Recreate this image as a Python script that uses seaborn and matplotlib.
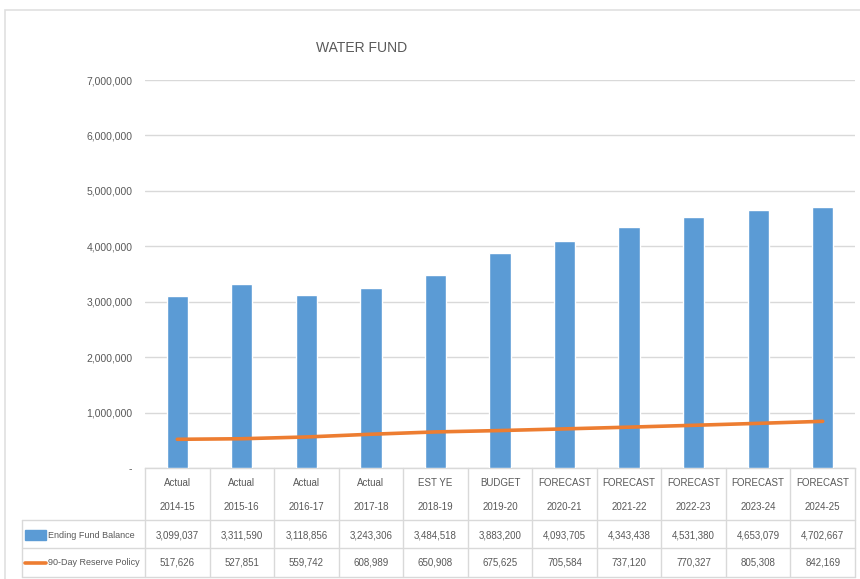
import matplotlib
matplotlib.use("Agg")
import matplotlib.pyplot as plt
import matplotlib.transforms as mtransforms
from matplotlib.patches import Rectangle
from matplotlib.lines import Line2D
import numpy as np
import pandas as pd
import seaborn as sns

# Fiscal years and their status labels
periods = ["Actual", "Actual", "Actual", "Actual", "EST YE", "BUDGET",
           "FORECAST", "FORECAST", "FORECAST", "FORECAST", "FORECAST"]
years = ["2014-15", "2015-16", "2016-17", "2017-18", "2018-19", "2019-20",
         "2020-21", "2021-22", "2022-23", "2023-24", "2024-25"]
ending_balance = [3099037, 3311590, 3118856, 3243306, 3484518, 3883200,
                  4093705, 4343438, 4531380, 4653079, 4702667]
reserve_policy = [517626, 527851, 559742, 608989, 650908, 675625,
                  705584, 737120, 770327, 805308, 842169]
series_names = ["Ending Fund Balance", "90-Day Reserve Policy"]
y_ticks = [0, 1000000, 2000000, 3000000, 4000000, 5000000, 6000000, 7000000]

BLUE = "#5B9BD5"
ORANGE = "#ED7D31"
GRID = "#D9D9D9"
TEXT = "#595959"

sns.set_theme(style="white")
plt.rcParams["font.family"] = ["Liberation Sans", "DejaVu Sans"]

df = pd.DataFrame({"year": years, "balance": ending_balance,
                   "reserve": reserve_policy})

fig = plt.figure(figsize=(8.6, 5.79), dpi=100)
W, H = 860, 579
ax = fig.add_axes([145 / W, 1 - 468 / H, 710 / W, 388 / H])

sns.barplot(data=df, x="year", y="balance", color=BLUE, saturation=1,
            width=0.33, ax=ax, zorder=3)
sns.lineplot(data=df, x="year", y="reserve", color=ORANGE, linewidth=2.6,
             ax=ax, zorder=4, sort=False)

ax.set_xlim(-0.5, len(years) - 0.5)
ax.set_ylim(0, 7000000)
ax.set_yticks(y_ticks)
ax.set_yticklabels(["-" if v == 0 else f"{v:,}" for v in y_ticks],
                   fontsize=7.5, color=TEXT)
ax.tick_params(axis="y", length=0, pad=9)
ax.set_xticks([])
ax.set_xlabel("")
ax.set_ylabel("")
ax.yaxis.grid(True, color=GRID, linewidth=1, zorder=0)
for s in ["top", "right", "left"]:
    ax.spines[s].set_visible(False)
ax.spines["bottom"].set_color(GRID)
ax.spines["bottom"].set_linewidth(1)

ax.set_title("WATER FUND", fontsize=10, color=TEXT, x=0.305, y=1.05,
             loc="center")

# Data table beneath the plot: x in category units, y in axes fraction
tr = mtransforms.blended_transform_factory(ax.transData, ax.transAxes)
n = len(years)
left_x = -2.40
y_hdr_top = 0.0
y_row1 = -0.134
y_row2 = -0.206
y_bot = -0.281
line_kw = dict(color=GRID, linewidth=1, transform=tr, clip_on=False)

# vertical separators
for i in range(n + 1):
    ax.add_line(Line2D([i - 0.5, i - 0.5], [y_hdr_top, y_bot], **line_kw))
ax.add_line(Line2D([left_x, left_x], [y_row1, y_bot], **line_kw))
# horizontal separators
ax.add_line(Line2D([left_x, n - 0.5], [y_row1, y_row1], **line_kw))
ax.add_line(Line2D([left_x, n - 0.5], [y_row2, y_row2], **line_kw))
ax.add_line(Line2D([left_x, n - 0.5], [y_bot, y_bot], **line_kw))

txt_kw = dict(transform=tr, ha="center", va="center", fontsize=7,
              color=TEXT, clip_on=False)
for i in range(n):
    ax.text(i, -0.0387, periods[i], **txt_kw)
    ax.text(i, -0.1005, years[i], **txt_kw)
    ax.text(i, -0.1727, f"{ending_balance[i]:,}", **txt_kw)
    ax.text(i, -0.2448, f"{reserve_policy[i]:,}", **txt_kw)

# legend keys in the row headers
ax.add_patch(Rectangle((left_x + 0.04, -0.1727 - 0.012), 0.32, 0.024,
                       transform=tr, color=BLUE, clip_on=False))
ax.add_line(Line2D([left_x + 0.04, left_x + 0.36], [-0.2448, -0.2448],
                   color=ORANGE, linewidth=2.6, transform=tr, clip_on=False))
ax.text(left_x + 0.39, -0.1727, series_names[0], transform=tr, ha="left",
        va="center", fontsize=6.5, color=TEXT, clip_on=False)
ax.text(left_x + 0.39, -0.2448, series_names[1], transform=tr, ha="left",
        va="center", fontsize=6.5, color=TEXT, clip_on=False)

# chart frame
fig.add_artist(Rectangle((5 / W, -0.05), 1.0, 1 - 10 / H + 0.05,
                         transform=fig.transFigure, fill=False,
                         edgecolor="#E0E0E0", linewidth=1.2))

fig.savefig("out.png", dpi=100)
